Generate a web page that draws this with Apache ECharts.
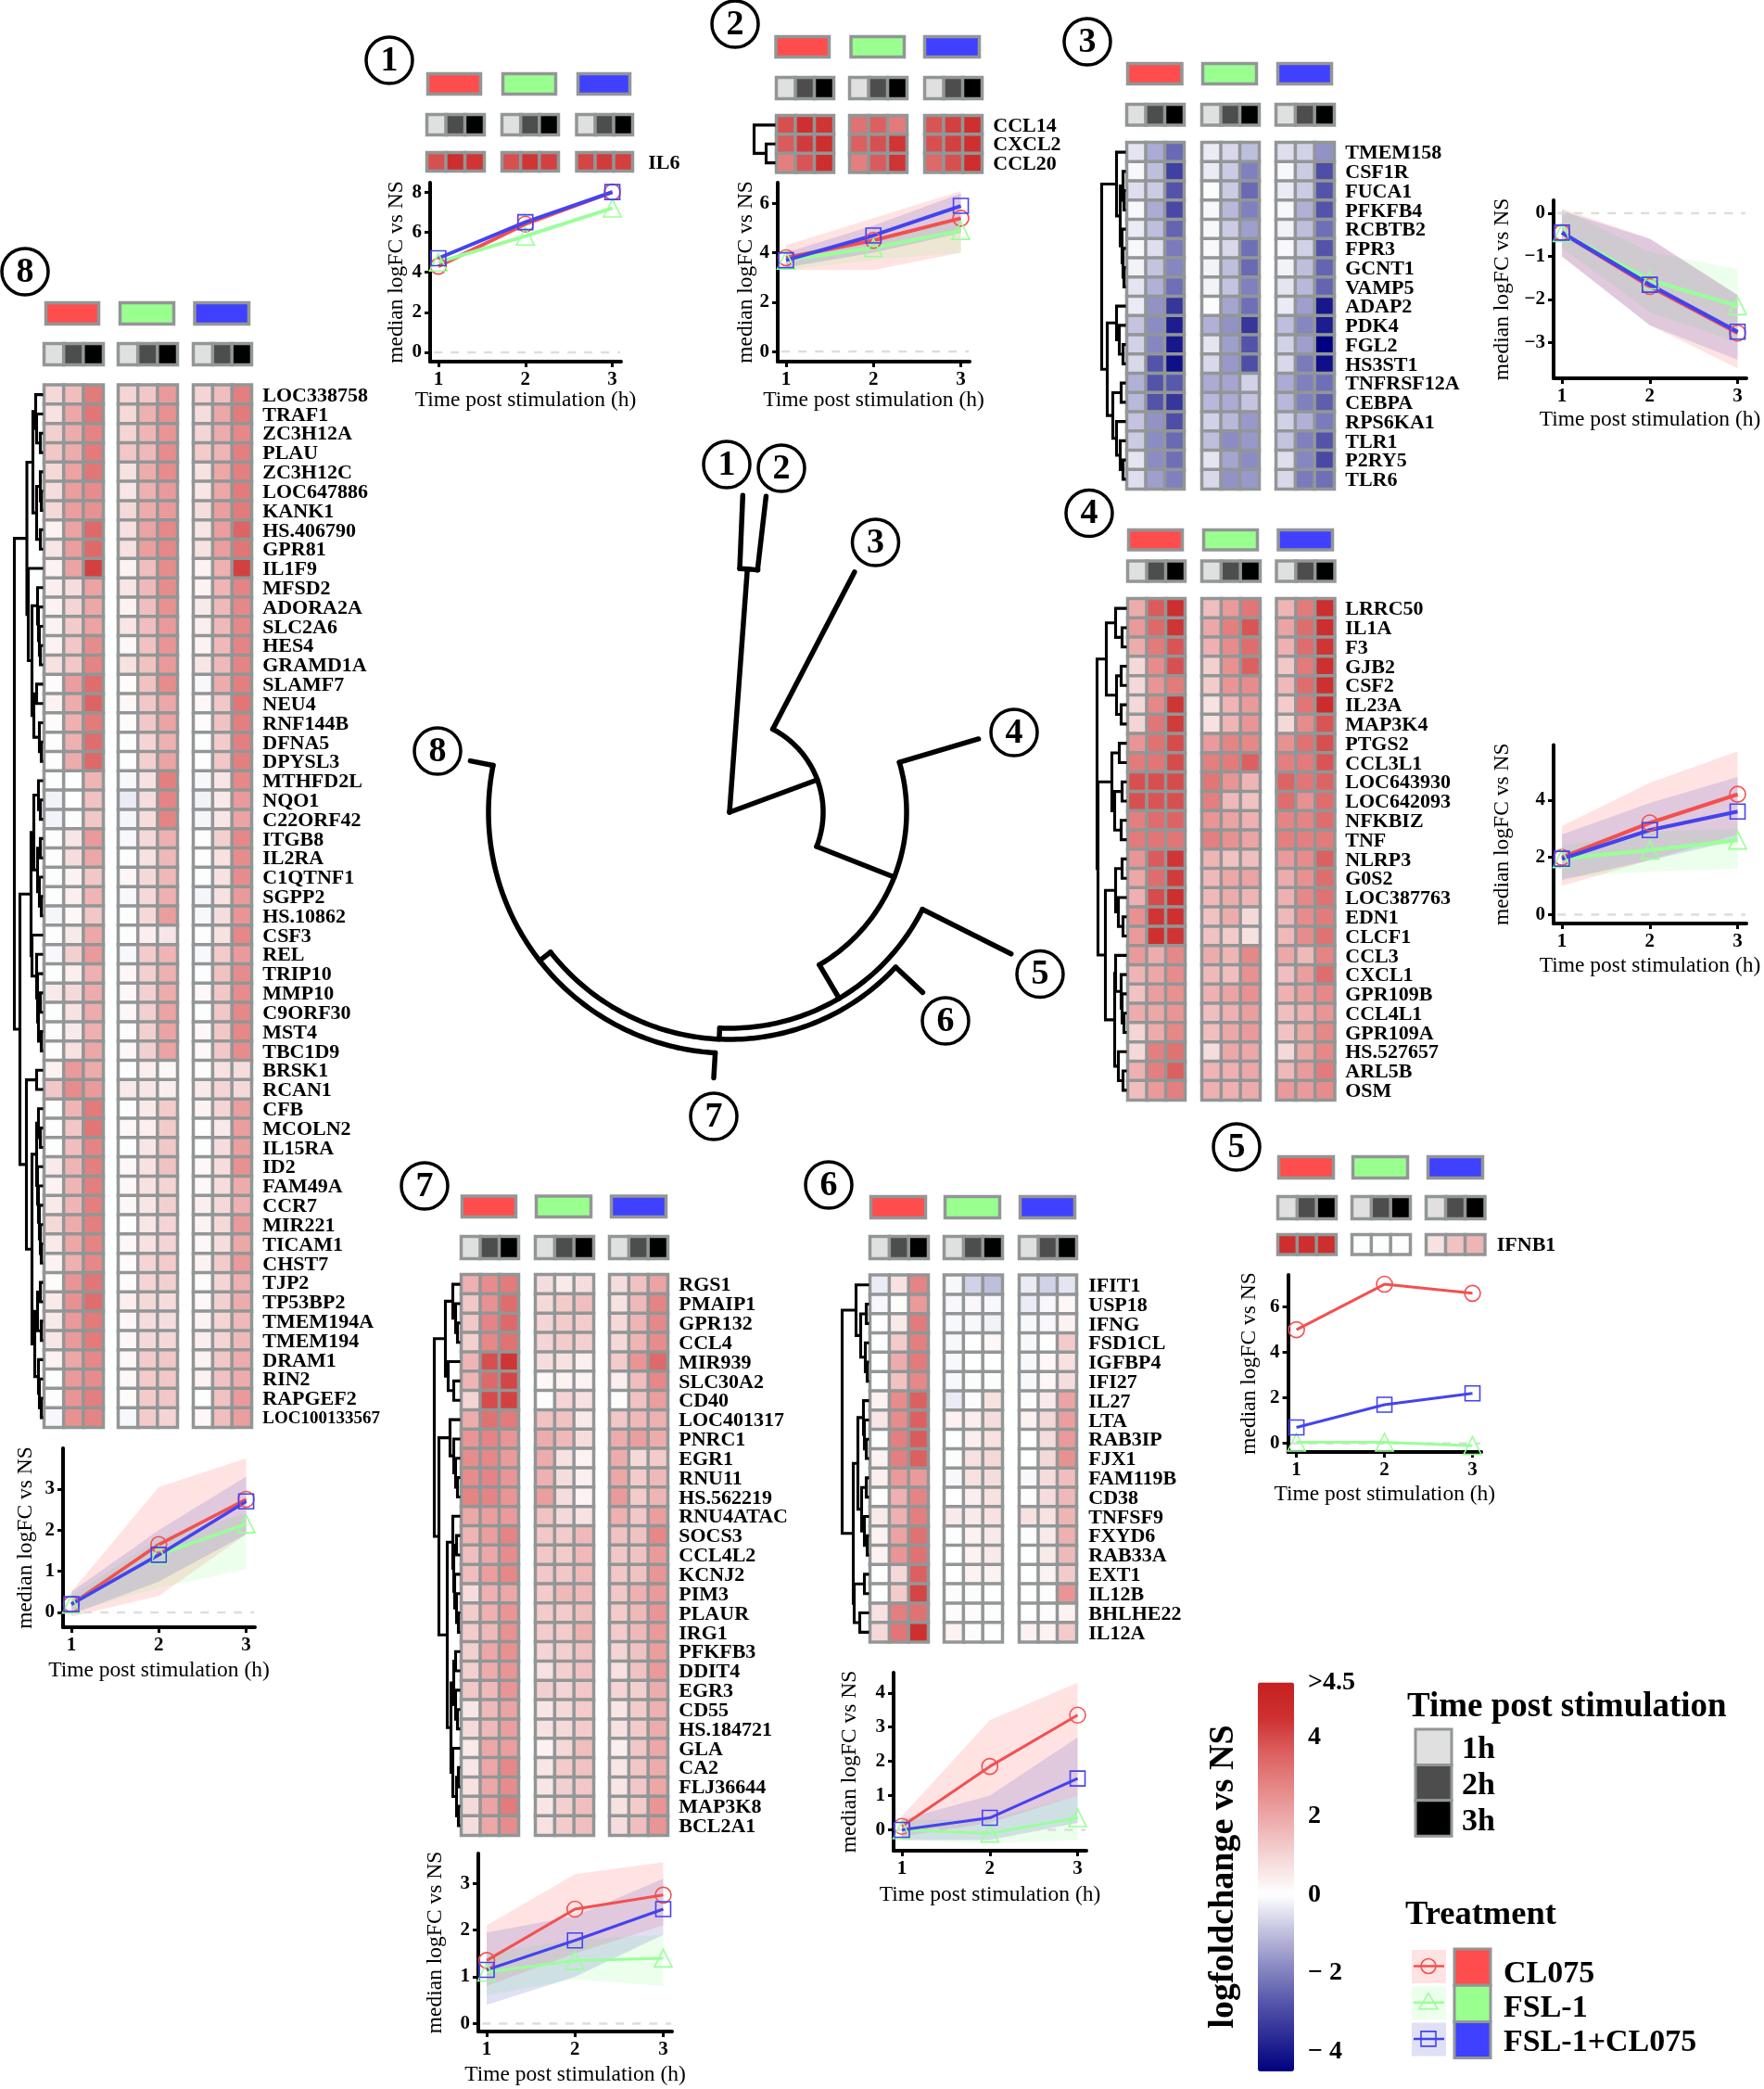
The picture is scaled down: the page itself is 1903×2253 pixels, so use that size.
<!DOCTYPE html>
<html><head><meta charset="utf-8">
<style>html,body{margin:0;padding:0;background:#fff}#c{width:1903px;height:2253px}</style>
<script src="https://cdn.jsdelivr.net/npm/echarts@6/dist/echarts.min.js"></script>
</head><body><div id="c"></div>
<script>
// ---------- DATA ----------
const genes1=['IL6'];
const vals1=[[3.9,4.6,4.4,3.9,4.4,4.2,4.1,4.3,4.2]];
const genes2=['CCL14','CXCL2','CCL20'];
const vals2=[[3.9,4.5,4.4,3.2,3.6,3.0,3.8,4.2,4.5],[3.7,4.3,4.6,3.6,3.9,4.4,3.9,4.2,4.5],[2.9,3.8,4.6,2.9,3.7,4.4,3.4,3.9,4.6]];
const genes3=['TMEM158','CSF1R','FUCA1','PFKFB4','RCBTB2','FPR3','GCNT1','VAMP5','ADAP2','PDK4','FGL2','HS3ST1','TNFRSF12A','CEBPA','RPS6KA1','TLR1','P2RY5','TLR6'];
const vals3=[
[-.4,-1.3,-2.4,-.3,-.6,-1,-.5,-.7,-1.7],[-.1,-1,-3.2,-.3,-.8,-2,-.1,-.8,-2.9],[-.5,-.8,-2.8,-.05,-.8,-2.4,-.3,-.8,-2.8],
[-.1,-1.3,-3,-.1,-1.1,-2,-.1,-1.2,-2.8],[-.3,-1,-2.5,-.1,-.8,-1.5,-.2,-1,-2.3],[-.1,-.5,-2.1,-.1,-.6,-2.3,-.1,-.7,-2.8],
[-.2,-.9,-1.9,-.2,-1,-2.4,-.2,-1,-2.5],[-.4,-1.2,-2.3,-.2,-.9,-2,-.4,-1.1,-2.5],[-.3,-1.7,-3.4,-.05,-1.4,-2.3,-.3,-1.5,-4],
[-.9,-1.8,-3.9,-1.2,-1.7,-3.4,-1,-1.9,-3.9],[-.7,-1.9,-4,-.4,-1.5,-2.8,-.7,-1.5,-4.5],[-.6,-2.8,-4.2,-.6,-1.6,-2.9,-.6,-2.1,-4.2],
[-1.2,-2.8,-2.7,-1.3,-1.4,-.7,-1.3,-2,-2.3],[-1.1,-2.8,-3.4,-1.1,-1.3,-.9,-1.1,-2,-2.6],[-.9,-1.7,-2.9,-.7,-1.1,-1.6,-.7,-1.2,-2.1],
[-.8,-1.8,-2.4,-1,-1.8,-1.6,-.9,-2,-2.8],[-.4,-1.8,-2.3,-.4,-1.4,-1.8,-.5,-1.9,-3],[-.5,-1.5,-2,-.6,-1.7,-1.6,-.6,-2.1,-2.3]];
const genes4=['LRRC50','IL1A','F3','GJB2','CSF2','IL23A','MAP3K4','PTGS2','CCL3L1','LOC643930','LOC642093','NFKBIZ','TNF','NLRP3','G0S2','LOC387763','EDN1','CLCF1','CCL3','CXCL1','GPR109B','CCL4L1','GPR109A','HS.527657','ARL5B','OSM'];
const vals4=[
[1.9,3.7,4.6,1.5,2.3,3.1,1.7,3,4.6],[2.3,3.4,4.4,2,2.9,3.8,2.1,3.3,4.6],[1.9,3,3.8,1.8,2.6,3.3,1.8,3.3,4.4],[.9,2.6,3.9,1.1,2.5,3.6,1.3,3,4.5],
[.9,2.4,3,1.2,2.4,2.6,1.6,3.3,4.5],[.9,2.7,4.4,.7,1.7,2.3,1.2,3.1,4.7],[1,3.1,4.3,.7,1.7,2.4,.9,2.6,3.8],[2.4,3.2,4,2.3,2.8,2.7,2.5,3.2,3.9],
[3,3.1,4,2.9,3,3.6,2.9,3,3.8],[3.9,3.9,4,3.1,2.4,1.7,3.5,3.1,3.5],[3.9,3.8,3.9,2.9,1.6,1.4,3.3,2.5,3.3],[2.9,3.3,3.5,2.4,2.1,1.8,2.8,2.8,3.3],
[3,3.1,3.1,2.9,2.5,2.1,2.9,2.9,3],[2.4,3.7,4.4,1.7,1.4,1.5,2.3,2.6,3.6],[2,3.3,4.3,1.6,2,2.1,1.9,2.5,3.3],[1.8,4,4.6,1.6,1.9,1.7,1.8,2.7,3.2],
[2.5,4.4,4.5,1.4,1.9,.9,1.6,2.6,3],[2.3,4.5,4.4,1.4,1.2,.7,1.6,2.6,3.2],[2.3,1.9,2.7,1.9,1.7,2.7,2,1.6,2.8],[1.7,2,2.6,1.6,1.5,2.5,1.5,2.2,3.3],
[1.4,2.2,2.5,1.8,2.1,2.5,1.8,2.2,2.7],[1.9,2,2.4,1.5,1.8,2.2,1.5,1.8,2.4],[1,1.9,2.7,1.5,2,2.3,1.4,2,2.7],[.9,2.9,3.2,.8,2,2,.9,2,2.7],
[1.8,2.9,3.6,1.7,1.8,2,1.6,2.3,3],[1.5,2.3,2.9,1.8,1.8,1.9,2.3,2.3,2.6]];
const genes5=['IFNB1'];
const vals5=[[4.6,4.6,4.6,.05,.05,.05,.7,1.4,1.7]];
const genes6=['IFIT1','USP18','IFNG','FSD1CL','IGFBP4','IFI27','IL27','LTA','RAB3IP','FJX1','FAM119B','CD38','TNFSF9','FXYD6','RAB33A','EXT1','IL12B','BHLHE22','IL12A'];
const vals6=[
[-.3,.7,2.8,-.1,-.7,-1,-.3,-.7,-.4],[-.1,.1,2.3,-.1,-.1,-.1,-.3,-.1,.2],[0,.5,3,-.1,-.1,-.2,-.1,-.1,.3],[-.05,1.2,2.9,-.1,0,.2,-.1,0,1.2],
[0,1.9,3,-.1,0,0,-.1,.2,.7],[0,1.4,2.7,-.1,-.05,-.05,-.1,.2,.8],[.3,2.6,3.6,-.3,-.05,.7,-.05,.5,2.1],[.6,2.6,3.6,.3,.4,.8,.3,.9,2.2],
[.05,2.9,3.7,0,.4,.7,0,.8,2.3],[.3,2.9,3.6,-.05,.7,.9,0,.9,2.5],[.4,2.3,2.3,-.1,.7,.8,-.1,.8,1.5],[.05,1.8,2.8,0,.4,.7,-.05,.8,1.6],
[.5,1.8,2.9,.5,.5,.7,.7,.7,1.7],[.3,2.1,3.2,.05,.3,.5,-.05,.5,1.8],[.3,2.4,3.2,0,.3,.5,0,.5,1.6],[.05,.9,3.6,0,.3,.3,0,.3,1.2],
[0,1.2,4.1,-.05,-.05,0,0,-.05,2.4],[.7,2.9,3.2,.1,.1,.05,0,.1,.3],[.9,3.1,4.5,.3,-.05,0,.3,.3,1.2]];
const genes7=['RGS1','PMAIP1','GPR132','CCL4','MIR939','SLC30A2','CD40','LOC401317','PNRC1','EGR1','RNU11','HS.562219','RNU4ATAC','SOCS3','CCL4L2','KCNJ2','PIM3','PLAUR','IRG1','PFKFB3','DDIT4','EGR3','CD55','HS.184721','GLA','CA2','FLJ36644','MAP3K8','BCL2A1'];
const vals7=[
[1.8,2.6,3,.8,.5,.8,.8,1.4,2.1],[1.3,2.5,3.3,.9,1.2,1.5,.7,1.6,2.8],[1.3,2.8,3.4,1,1.2,1.2,.9,1.7,2.7],[1.1,2.7,3.2,1,1.2,1.1,.9,1.7,2.6],
[1.7,3.9,4.4,.8,.7,.4,1.2,2.4,3.4],[1.7,3.4,4.1,.2,.3,.3,.4,1.5,2.7],[1,4,4.2,.05,1,.7,.1,1.4,2.2],[1.9,3.2,3,1.4,1.4,.5,1.3,1.6,1.8],
[2.4,2.8,2.4,1.9,1.6,.8,1.9,2.2,1.9],[2.6,2.7,2.3,1.9,.7,.3,1.9,.9,1.2],[2.6,2.8,2.4,1.8,.8,.4,2,1.2,1.6],[2.8,2.8,2.4,2.2,.8,.3,2.3,1.2,1.7],
[2,2.2,2.3,1.4,.9,.7,1.8,1.3,2.2],[1.7,2.2,2.8,1.3,1.2,1.6,1.4,1.4,2.7],[1.5,2,2.6,1.3,1.2,1.6,1.3,1.4,2.3],[1.5,2.2,2.7,1.3,1.3,1.6,1.3,1.4,2.4],
[.8,1.8,2,1.2,1.6,1.6,1.3,1.8,2.3],[1.2,1.8,2.4,1.2,1.2,1.5,1.2,1.6,2.4],[1.2,1.6,2.5,1.2,1.2,1.8,1.2,1.6,2.3],[1.1,2,2.5,1,1.1,1.4,1,1.4,2.2],
[1.1,1.9,2.4,.7,1.1,1.4,.7,1.4,2.3],[1.3,1.6,2.4,1.1,1,1.3,1,1.1,1.9],[.6,1.6,2.1,.6,.9,1.2,.6,1.2,1.8],[.9,1.6,2.2,.7,.9,1.2,.7,1.2,1.9],
[.5,2,2.2,.3,.9,1.5,.4,1.3,2],[.6,2,2.7,.6,1.2,1.4,.6,1.3,1.9],[.7,2,2.6,.6,1.1,1.3,.6,1.3,2],[.9,2.1,3,.6,1.1,1.5,.7,1.2,2.4],[.8,2,2.6,.7,1.2,1.5,.8,1.5,2.4]];
const genes8=['LOC338758','TRAF1','ZC3H12A','PLAU','ZC3H12C','LOC647886','KANK1','HS.406790','GPR81','IL1F9','MFSD2','ADORA2A','SLC2A6','HES4','GRAMD1A','SLAMF7','NEU4','RNF144B','DFNA5','DPYSL3','MTHFD2L','NQO1','C22ORF42','ITGB8','IL2RA','C1QTNF1','SGPP2','HS.10862','CSF3','REL','TRIP10','MMP10','C9ORF30','MST4','TBC1D9','BRSK1','RCAN1','CFB','MCOLN2','IL15RA','ID2','FAM49A','CCR7','MIR221','TICAM1','CHST7','TJP2','TP53BP2','TMEM194A','TMEM194','DRAM1','RIN2','RAPGEF2','LOC100133567'];
const vals8=[
[.9,1.5,3,1,1.3,2.3,1,1.5,2.9],[.7,2,3.1,.9,1.8,2.5,.8,2,3],[1.1,1.9,2.8,1,1.7,2.4,1,1.9,2.7],[1.3,1.9,3,1.3,1.6,2.6,1.2,1.7,2.9],
[.9,2.1,3.1,.7,1.9,2.6,.7,2,2.9],[.8,2.2,2.6,.6,1.8,2.3,.6,2,3],[.9,2.2,2.5,.9,1.9,2.3,.8,2.2,3],[.3,2.1,3.4,.7,2.1,2.7,.6,2.2,3.5],
[.6,2.2,3.4,.7,2.2,2.7,.7,2.2,3.1],[.3,2.1,4.2,.3,1.5,2.6,.3,1.8,4.2],[.4,.8,2.1,.6,1.6,2.6,.3,1.7,2.8],[.3,1,2,.3,1.5,2.5,.5,1.6,2.7],
[.3,1.2,2.1,.6,1.5,2.3,.4,1.6,2.7],[.3,1.3,2.6,.2,1.4,2.4,.3,1.6,2.8],[.7,1.3,2.8,.7,1.4,2.3,.6,1.6,2.8],[.1,2.2,3.3,.1,1.4,2.6,-.1,1.9,2.9],
[.3,1.9,3.5,.2,1.3,2,.2,1.3,3.1],[.1,1.8,3,.1,1.3,2.1,.1,1.4,2.9],[.05,1.8,3.3,.05,1,1.8,.05,1.2,2.9],[.05,1.9,3.4,.05,1.1,2.1,.05,1.3,2.9],
[.05,.05,1.7,-.1,.7,2.9,-.1,.6,2.7],[-.2,0,1.4,-.3,.8,2.8,-.2,.5,2.3],[-.2,-.05,1.3,-.15,.8,2.8,-.15,.6,2.1],[.05,.6,2.3,-.1,.9,1.8,.05,1.1,2.7],
[.05,.8,2,.05,.7,1.6,.05,.7,2.6],[.05,.3,1.3,.2,.9,1.6,.05,.7,2.6],[.05,.4,1.7,-.1,.9,1.8,-.15,.7,2.3],[-.15,.2,1.3,.05,.9,2.2,-.1,.8,2.4],
[.05,.5,2,.05,.4,.6,.05,.7,2.7],[-.1,1.1,2.3,-.1,1.2,1.7,-.1,1.2,2.3],[.05,.4,1.8,.2,1.1,1.8,.05,1.4,2.6],[.5,.9,1.9,.2,1.1,1.9,.2,1.3,2.6],
[.05,.7,1.9,.2,1.1,2.1,.05,1.3,2.7],[.05,.5,1.8,.05,1.1,2.1,.2,1.3,2.7],[.05,.7,2,.2,1.1,2.1,.2,1.3,2.6],[.3,2.3,1.9,.05,.4,.2,-.05,.7,.8],
[1.3,2.6,2.3,.5,.6,.4,.5,1,.9],[.05,1.7,3,.05,.5,1.2,.3,1,2.2],[.05,1.3,3.1,.2,.4,1.2,.05,.5,2.2],[.05,1.5,2.8,.05,.6,1.3,.05,.8,2.2],
[.5,1.7,2.9,.2,.7,1.4,.2,.8,2.5],[.3,1.7,2.9,.2,.7,1,.2,.8,1.9],[.5,1.7,2.9,.2,.6,1.1,.4,.9,1.8],[.9,1.9,2.9,.05,.6,1,.3,.9,2.3],
[.5,2,2.8,.2,.7,1,.2,.8,2],[.3,1.8,2.7,.1,1,1.2,.3,1.2,2.3],[.1,2.4,3.1,.1,1,1.1,.1,1,1.8],[.5,2.5,3.3,.4,.9,.8,.2,1.1,1.9],
[.5,2.3,3,.2,.8,.8,.3,1,1.6],[.6,2.3,3,.2,.9,.9,.4,1,1.6],[.3,2,2.7,.2,1.2,1.3,.3,1.3,1.9],[.05,2.3,2.6,.2,1.2,1.3,.3,1.4,1.9],
[.05,2.4,2.9,.1,1.2,1.3,.05,1.4,2.3],[-.1,2.5,2.8,-.1,1.2,1,.2,1.5,2.2]];

// dendrogram merges: [height, childA, childB]; 0 is a leaf
const tree2=[23,0,[10,0,0]];
const tree3=[26,[10,0,[6,[3,0,[2,0,0]],[4,0,[3,0,[2,0,0]]]]],[20,[10,0,[7,0,[3,0,0]]],[14,[5,0,0],[10,0,[6,0,[3,0,0]]]]]];
const tree4=[32,[22,[12,0,[5,0,0]],[11,[6,0,0],[6,0,0]]],[31,[16,[8,0,0],[13,[5,0,0],[6,0,0]]],[23,[12,[5,0,0],[9,0,[4,0,0]]],[13,[12,0,[6,0,[5,0,[3,0,0]]]],[9,0,[4,0,0]]]]]];
const tree6=[29,[14,0,[9,[3,0,0],[4,0,[2,0,0]]]],[17,[12,[6,0,[5,0,[3,0,0]]],[8,[3,0,0],[5,0,[2,0,0]]]],[16,[5,0,0],[10,0,0]]]];
const tree7=[28,[16,[8,0,[5,0,[3,0,0]]],[13,0,[7,0,0]]],[23,[11,0,[7,0,[5,0,[3,0,0]]]],[14,[8,0,[7,[4,0,0],[6,0,[4,0,[2,0,0]]]]],[10,[7,[5,0,0],[5,0,[3,0,0]]],[8,0,[4,[2,0,0],[2,0,0]]]]]]];
const tree8=[31,
 [17.5,[11,[8,0,[7,0,[3,0,0]]],[7,[3,0,[2,0,0]],[3,0,0]]],[16,0,[12,[6,0,[5,0,[4,0,[3,0,0]]]],[10,[7,0,0],[4,0,[2,0,0]]]]]],
 [25,[13,[10,[5,0,[3,0,0]],[6,[3,0,0],[4,0,[2,0,0]]]],[12,0,[7,0,[6,0,[5,[3,0,0],[2,0,0]]]]]],
  [18,[7,0,0],[12,[7,[5,0,[3,0,0]],[6,0,[5,0,[4,0,[3,0,[2,0,0]]]]]],[9,[6,[3,0,0],[2,0,0]],[5,0,[4,0,[2,0,0]]]]]]]];

// medians [CL075, FSL-1, FSL-1+CL075] at 1,2,3 h
const med1=[[4.3,6.4,8],[4.5,5.8,7.2],[4.7,6.5,8]];
const med2=[[3.8,4.5,5.4],[3.7,4.2,4.9],[3.7,4.7,5.9]];
const med3=[[-.45,-1.7,-2.78],[-.45,-1.55,-2.15],[-.45,-1.66,-2.75]];
const med4=[[2,3.2,4.2],[1.95,2.25,2.6],[1.95,2.95,3.6]];
const med5=[[5,7,6.6],[.05,.05,-.1],[.7,1.7,2.2]];
const med6=[[.1,1.85,3.35],[0,-.1,.35],[0,.35,1.5]];
const med7=[[1.35,2.45,2.75],[1.1,1.35,1.4],[1.15,1.78,2.45]];
const med8=[[.2,1.65,2.75],[.2,1.4,2.15],[.2,1.4,2.7]];
// bands: for each treatment [lo1,hi1,lo2,hi2,lo3,hi3]
const band2=[[3.3,4.3,3.3,5.4,4,6.5],[3.3,3.9,3.7,4.6,4,5.3],[3.4,4,4,5.1,4.8,6.4]];
const band3=[[-1,.1,-2.6,-.58,-3.6,-1.9],[-.8,.1,-2.3,-.9,-3,-1.3],[-1,.05,-2.6,-.6,-3.4,-1.9]];
const band4=[[1,3.1,1.9,4.6,2.8,5.7],[1.3,2.4,1.5,2.9,1.6,3],[1.2,2.8,1.9,3.9,2.6,4.8]];
const band6=[[-.2,.4,.2,3.2,1,4.3],[-.3,.3,-.4,.3,-.3,1],[-.3,.3,-.3,1,.2,2.7]];
const band7=[[.8,2.1,1.5,3.2,2.1,3.45],[.6,1.5,.95,1.8,.8,1.9],[.4,1.95,1,2.3,1.9,3.1]];
const band8=[[-.1,.5,.4,3.05,1.9,3.75],[0,.4,.6,1.8,1.05,2.4],[-.05,.5,.75,2,1.9,3.3]];

const ticks1=[0,2,4,6,8],ticks2=[0,2,4,6],ticks3=[-3,-2,-1,0],ticks4=[0,2,4],ticks5=[0,2,4,6],ticks6=[0,1,2,3,4],ticks7=[0,1,2,3],ticks8=[0,1,2,3];
const timeTicks=[1,2,3];
const treatments=['CL075','FSL-1','FSL-1+CL075'];
const treatColors=['#FF4D4D','#99FF8F','#4040FF'];
const lineColors=['#F25050','#99FF99','#4343F0'];
const bandColors=['rgba(255,70,70,.15)','rgba(110,255,110,.13)','rgba(50,50,190,.15)'];
const timeLabels=['1h','2h','3h'];
const timeColors=['#E0E0E0','#4D4D4D','#000000'];
const scaleTicks=[-4,-2,0,2,4,5.4];
const scaleTickText={'-4':'− 4','-2':'− 2','0':'0','2':'2','4':'4','5.4':'>4.5'};
const scaleColors=['#000080','#2C2C96','#5858AC','#8C8CC4','#C4C4E0','#FFFFFF','#F5D9D9','#EEB0B0','#E68888','#DC6060','#CE3030','#C62020'];
// central tree: arcs [radius, fromAngle, toAngle], rays [fromRadius, toRadius, angle]
const treeArcs=[[263,87.6,83.3],[101,62.5,-21.4],[191,16.3,-59.5],[233,-26.7,-92.6],[245,-43,-142],[260,168.8,266.6]];
const treeRays=[[0,263,85.8],[263,342,87.6],[263,343,83.4],[0,101,20.3],[101,292,62.5],[101,191,-21.5],[191,280,16.4],[191,233,-59.5],[233,340,-26.7],[233,245,-92.6],[245,285,-43],[245,260,-142],[260,287,-93.4],[260,285,168.8]];

// ---------- LAYOUT ----------
const SERIF='"Liberation Serif","Times New Roman",serif';
const panels=[
 {n:1,c:[420,65],tx:[[460,520],[541,601],[622,681]],ty:[78,103],hx:[[459,524],[540,604],[620.5,684]],my:[122,147],hy:[163,186],lab:700,genes:genes1,vals:vals1,lw:4,
  g:{l:464,r:670,t:197,b:390,y:[-.46,8.47],ticks:ticks1,xc:432,yc:428},med:med1},
 {n:2,c:[793,26],tx:[[835.5,896],[916.5,977],[996,1058]],ty:[38,63],hx:[[836,901],[915,980],[996,1061]],my:[82,108],hy:[123,187.5],lab:1072,genes:genes2,vals:vals2,tree:tree2,lw:4,
  g:{l:839,r:1046,t:197,b:390,y:[-.41,6.84],ticks:ticks2,xc:432,yc:805},med:med2,band:band2},
 {n:3,c:[1173,45],tx:[[1215,1276.5],[1296,1357],[1377,1438]],ty:[67,92],hx:[[1214,1279],[1295,1360],[1375,1441]],my:[111,136.5],hy:[152,529],lab:1452,genes:genes3,vals:vals3,tree:tree3,lw:4.2,
  g:{l:1676,r:1884,t:216,b:408,y:[-3.83,.3],ticks:ticks3,xc:453,yc:1620.5},med:med3,band:band3},
 {n:4,c:[1175,553.5],tx:[[1216,1277],[1297,1358],[1377.5,1439]],ty:[570,594.5],hx:[[1215,1280],[1295,1361],[1375.5,1441.5]],my:[603.5,628.5],hy:[644,1188],lab:1452,genes:genes4,vals:vals4,tree:tree4,lw:4.2,
  g:{l:1676,r:1884,t:803.5,b:996,y:[-.31,5.92],ticks:ticks4,xc:1041.5,yc:1620.5},med:med4,band:band4},
 {n:5,c:[1334,1237],tx:[[1378,1440],[1458,1520],[1539,1601]],ty:[1246,1272],hx:[[1377,1443],[1457,1523],[1537,1603.5]],my:[1289,1316],hy:[1330,1354.5],lab:1615.5,genes:genes5,vals:vals5,lw:3,
  g:{l:1389.6,r:1598,t:1375,b:1566,y:[-.38,7.41],ticks:ticks5,xc:1611.7,yc:1348},med:med5},
 {n:6,c:[894,1278],tx:[[938,1000],[1018,1080],[1099,1161]],ty:[1289,1315],hx:[[937,1003],[1017,1083],[1098,1163]],my:[1332,1359],hy:[1373.6,1772.5],lab:1175,genes:genes6,vals:vals6,tree:tree6,lw:3,
  g:{l:964,r:1172,t:1804,b:1996,y:[-.61,4.59],ticks:ticks6,xc:2044,yc:917},med:med6,band:band6},
 {n:7,c:[458,1279],tx:[[497,558],[577,639],[658,720]],ty:[1288.5,1314],hx:[[496,561],[576,642],[656,722]],my:[1332,1359],hy:[1373,1981],lab:733,genes:genes7,vals:vals7,tree:tree7,lw:3,
  g:{l:516,r:725,t:1999,b:2191,y:[-.17,3.64],ticks:ticks7,xc:2238,yc:470},med:med7,band:band7},
 {n:8,c:[27,293],tx:[[48,108],[128,189],[208.5,270]],ty:[325,351],hx:[[46,113],[126,193],[207,273]],my:[369,395],hy:[413.5,1541],lab:284,genes:genes8,vals:vals8,tree:tree8,lw:3.6,
  g:{l:68,r:275,t:1562,b:1755,y:[-.36,3.99],ticks:ticks8,xc:1802,yc:28},med:med8,band:band8}
];
const GRID_LINE='#929696', BW=3.5;

// ---------- BUILD ----------
const grid=[],xAxis=[],yAxis=[],series=[],graphic=[];
const scaleIdx=[],codeIdx=[];
function newGrid(l,r,t,b){grid.push({left:l,top:t,width:r-l,height:b-t,containLabel:false});return grid.length-1;}

function swatchRow(x,y,codes){
 const g=newGrid(x[0]+BW/2,x[1]-BW/2,y[0]+BW/2,y[1]-BW/2);
 xAxis.push({gridIndex:g,type:'category',data:codes.map(String),show:false});
 yAxis.push({gridIndex:g,type:'category',data:['row'],show:false});
 codeIdx.push(series.length);
 series.push({type:'heatmap',xAxisIndex:g,yAxisIndex:g,data:codes.map((c,i)=>[i,0,c]),
  itemStyle:{borderColor:GRID_LINE,borderWidth:BW},emphasis:{disabled:true}});
}
function heatBlock(x,y,genes,vals,col,labelX){
 const g=newGrid(x[0]+BW/2,x[1]-BW/2,y[0]+BW/2,y[1]-BW/2);
 xAxis.push({gridIndex:g,type:'category',data:timeLabels,show:false});
 const show=labelX!=null;
 yAxis.push({gridIndex:g,type:'category',data:genes,inverse:true,position:'right',show:show,
  axisLine:{show:false},axisTick:{show:false},splitLine:{show:false},
  axisLabel:{show:show,interval:0,margin:show?labelX-x[1]+1:0,fontFamily:SERIF,fontWeight:'bold',fontSize:22,color:'#000',align:'left',padding:[3,0,0,0],
   formatter:v=>v.length>=12?'{s|'+v+'}':v,rich:{s:{fontFamily:SERIF,fontWeight:'bold',fontSize:19,color:'#000'}}}});
 const data=[];
 vals.forEach((row,r)=>{for(let t=0;t<3;t++)data.push([t,r,row[col*3+t]]);});
 scaleIdx.push(series.length);
 series.push({type:'heatmap',xAxisIndex:g,yAxisIndex:g,data,itemStyle:{borderColor:GRID_LINE,borderWidth:BW},emphasis:{disabled:true}});
}
function flatten(node,state,out){
 if(node===0){const y=state.i+.5;state.i++;return{h:0,y};}
 const a=flatten(node[1],state,out),b=flatten(node[2],state,out);
 out.push([node[0],a.y,b.y,a.h,b.h]);
 return{h:node[0],y:(a.y+b.y)/2};
}
function dendro(p){
 const out=[];flatten(p.tree,{i:0},out);
 const maxH=p.tree[0]+2;
 const g=newGrid(p.hx[0][0]-maxH+.5,p.hx[0][0]+.5,p.hy[0]+BW/2,p.hy[1]-BW/2);
 xAxis.push({gridIndex:g,type:'value',min:0,max:maxH,inverse:true,show:false});
 yAxis.push({gridIndex:g,type:'value',min:0,max:p.genes.length,inverse:true,show:false});
 series.push({type:'custom',xAxisIndex:g,yAxisIndex:g,data:out,silent:true,clip:false,
  renderItem:(ps,api)=>{
   const h=api.value(0),ya=api.value(1),yb=api.value(2),ha=api.value(3),hb=api.value(4);
   return{type:'polyline',shape:{points:[api.coord([ha,ya]),api.coord([h,ya]),api.coord([h,yb]),api.coord([hb,yb])]},
    style:{stroke:'#000',lineWidth:3.1,fill:null},silent:true};
  }});
}
const symbols=['circle','triangle','rect'];
function lineChart(p){
 const q=p.g,g=newGrid(q.l,q.r,q.t,q.b);
 xAxis.push({gridIndex:g,type:'value',min:.905,max:3.1,
  axisLine:{show:true,onZero:false,lineStyle:{color:'#000',width:4}},splitLine:{show:false},
  axisTick:{show:true,customValues:timeTicks,length:6,lineStyle:{color:'#000',width:3}},
  axisLabel:{customValues:timeTicks,margin:9,fontFamily:SERIF,fontWeight:'bold',fontSize:21,color:'#000'},
  name:'Time post stimulation (h)',nameLocation:'middle',nameGap:q.xc-q.b-12,nameMoveOverlap:false,
  nameTextStyle:{fontFamily:SERIF,fontSize:23.5,color:'#000'}});
 yAxis.push({gridIndex:g,type:'value',min:q.y[0],max:q.y[1],
  axisLine:{show:true,onZero:false,lineStyle:{color:'#000',width:4}},splitLine:{show:false},
  axisTick:{show:true,customValues:q.ticks,length:6,lineStyle:{color:'#000',width:3}},
  axisLabel:{customValues:q.ticks,margin:9,fontFamily:SERIF,fontWeight:'bold',fontSize:21,color:'#000',formatter:v=>v<0?'−'+(-v):String(v)},
  name:'median logFC vs NS',nameLocation:'middle',nameRotate:90,nameGap:q.l-q.yc-12,nameMoveOverlap:false,
  nameTextStyle:{fontFamily:SERIF,fontSize:23.5,color:'#000'}});
 if(p.band)p.band.forEach((b,i)=>{
  series.push({type:'custom',xAxisIndex:g,yAxisIndex:g,data:[b],silent:true,clip:false,encode:{x:[],y:[]},
   renderItem:(ps,api)=>{
    const pts=[[1,api.value(0)],[2,api.value(2)],[3,api.value(4)],[3,api.value(5)],[2,api.value(3)],[1,api.value(1)]].map(v=>api.coord(v));
    return{type:'polygon',shape:{points:pts},style:{fill:bandColors[i]},silent:true};
   }});
 });
 series.push({type:'line',xAxisIndex:g,yAxisIndex:g,data:[[.95,0],[3.09,0]],symbol:'none',silent:true,
  lineStyle:{color:'#DDDDDD',width:2.5,type:[9,9]}});
 p.med.forEach((m,i)=>{
  series.push({type:'line',xAxisIndex:g,yAxisIndex:g,name:treatments[i],clip:false,silent:true,
   data:m.map((v,k)=>[timeTicks[k],v]),symbol:symbols[i],symbolSize:i==1?19:i==2?16:17,showSymbol:true,
   lineStyle:{color:lineColors[i],width:p.lw},
   itemStyle:{color:'rgba(255,255,255,0)',borderColor:lineColors[i],borderWidth:1.6}});
 });
}
function badge(c,n){
 graphic.push({type:'circle',shape:{cx:c[0],cy:c[1],r:25},style:{fill:'#fff',stroke:'#000',lineWidth:3.5},z:50,silent:true});
 graphic.push({type:'text',x:c[0],y:c[1]+1,style:{text:String(n),align:'center',verticalAlign:'middle',font:'bold 38px '+SERIF,fill:'#000'},z:51,silent:true});
}
panels.forEach(p=>{
 badge(p.c,p.n);
 for(let k=0;k<3;k++){
  swatchRow(p.tx[k],p.ty,[k]);
  swatchRow(p.hx[k],p.my,[3,4,5]);
  heatBlock(p.hx[k],p.hy,p.genes,p.vals,k,k==2?p.lab:null);
 }
 if(p.tree)dendro(p);
 lineChart(p);
});
// tree badges
[[784,501],[843,505],[944.5,585],[1094,790],[1122,1050.6],[1020,1101],[770,1204],[472,810]].forEach((c,i)=>badge(c,i+1));

// central tree, drawn through a polar system
series.push({type:'custom',coordinateSystem:'polar',data:treeArcs,silent:true,clip:false,
 renderItem:(ps,api)=>{
  const r=api.value(0),a=api.value(1),b=api.value(2),pts=[];
  const steps=Math.max(2,Math.ceil(Math.abs(b-a)));
  for(let i=0;i<=steps;i++)pts.push(api.coord([r,a+(b-a)*i/steps]));
  return{type:'polyline',shape:{points:pts},style:{stroke:'#000',lineWidth:5.5,fill:null,lineCap:'round',lineJoin:'round'},silent:true};
 }});
series.push({type:'custom',coordinateSystem:'polar',data:treeRays,silent:true,clip:false,
 renderItem:(ps,api)=>({type:'line',shape:(()=>{const s=api.coord([api.value(0),api.value(2)]),e=api.coord([api.value(1),api.value(2)]);return{x1:s[0],y1:s[1],x2:e[0],y2:e[1]};})(),
  style:{stroke:'#000',lineWidth:5.5,lineCap:'round'},silent:true})});

// colour bar tick axis
const gb=newGrid(1357,1396,1814.5,2234);
xAxis.push({gridIndex:gb,type:'value',show:false,min:0,max:1});
yAxis.push({gridIndex:gb,type:'value',min:-4.5,max:5.4,position:'right',
 axisLine:{show:false},axisTick:{show:false},splitLine:{show:false},
 axisLabel:{customValues:scaleTicks,margin:15,align:'left',padding:[7,0,0,0],fontFamily:SERIF,fontWeight:'bold',fontSize:28,color:'#000',formatter:v=>scaleTickText[String(v)]}});

// legends
function text(x,y,s,size,opt){graphic.push(Object.assign({type:'text',x,y,style:{text:s,font:'bold '+size+'px '+SERIF,fill:'#000',verticalAlign:'middle',align:'left'},silent:true},opt||{}));}
text(1320,2024,'logfoldchange vs NS',38,{rotation:Math.PI/2,style:{text:'logfoldchange vs NS',font:'bold 38px '+SERIF,fill:'#000',align:'center',verticalAlign:'middle'}});
text(1518,1841,'Time post stimulation',37);
timeLabels.forEach((t,i)=>{
 graphic.push({type:'rect',shape:{x:1527,y:1865+i*38.4,width:39,height:38.4},style:{fill:timeColors[i],stroke:GRID_LINE,lineWidth:3},silent:true});
 text(1577,1887.5+i*39,t,34);
});
text(1516,2066,'Treatment',36.5);
treatments.forEach((t,i)=>{
 const y=2103+i*39.2,mid=y+17.5,x0=1523;
 graphic.push({type:'rect',shape:{x:x0,y:y,width:37,height:36},style:{fill:bandColors[i]},silent:true});
 graphic.push({type:'rect',shape:{x:1569,y:y-1,width:39,height:39.2},style:{fill:treatColors[i],stroke:GRID_LINE,lineWidth:3},silent:true});
 graphic.push({type:'line',shape:{x1:x0+2,y1:mid,x2:x0+35,y2:mid},style:{stroke:lineColors[i],lineWidth:2.5},silent:true});
 if(i==0)graphic.push({type:'circle',shape:{cx:x0+18,cy:mid,r:8},style:{fill:'none',stroke:lineColors[i],lineWidth:1.6},silent:true});
 if(i==1)graphic.push({type:'polygon',shape:{points:[[x0+18,mid-10],[x0+28,mid+7],[x0+8,mid+7]]},style:{fill:'none',stroke:lineColors[i],lineWidth:1.6},silent:true});
 if(i==2)graphic.push({type:'rect',shape:{x:x0+10,y:mid-8,width:16,height:16},style:{fill:'none',stroke:lineColors[i],lineWidth:1.6},silent:true});
 text(1622,2129+i*37,t,34);
});

const chart=echarts.init(document.getElementById('c'),null,{renderer:'canvas',width:1903,height:2253});
chart.setOption({
 backgroundColor:'#fff',animation:false,tooltip:{show:false},legend:{show:false},
 grid,xAxis,yAxis,series,graphic,
 polar:{center:[787,876],radius:360},
 radiusAxis:{type:'value',min:0,max:360,show:false,axisLine:{show:false},axisLabel:{show:false},axisTick:{show:false},splitLine:{show:false}},
 angleAxis:{type:'value',min:0,max:360,startAngle:0,clockwise:false,show:false,axisLine:{show:false},axisLabel:{show:false},axisTick:{show:false},splitLine:{show:false}},
 visualMap:[
  {type:'continuous',seriesIndex:scaleIdx,dimension:2,min:-4.5,max:5.4,show:true,calculable:false,hoverLink:false,
   left:1357,top:1814.5,itemWidth:39,itemHeight:419.5,padding:0,text:null,showLabel:false,
   inRange:{color:scaleColors},textStyle:{color:'rgba(0,0,0,0)',fontSize:1}},
  {type:'piecewise',seriesIndex:codeIdx,dimension:2,show:false,
   pieces:[{value:0,color:treatColors[0]},{value:1,color:treatColors[1]},{value:2,color:treatColors[2]},{value:3,color:timeColors[0]},{value:4,color:timeColors[1]},{value:5,color:timeColors[2]}]}
 ]
});
</script></body></html>
